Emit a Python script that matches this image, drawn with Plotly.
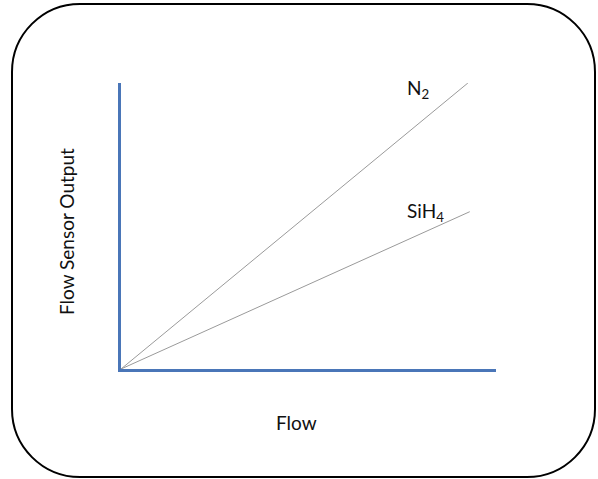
import plotly.graph_objects as go

# Data
gases = ["N<sub>2</sub>", "SiH<sub>4</sub>"]
flow_end = [92.5, 93.0]
output_end = [100.0, 55.0]

W, H = 598, 479
L, R, T, B = 121, 496, 83, 369

def px2paper(px, py):
    return (px - L) / (R - L), (B - py) / (B - T)

fig = go.Figure()
for name, xe, ye in zip(gases, flow_end, output_end):
    fig.add_trace(go.Scatter(x=[0, xe], y=[0, ye], mode="lines",
                             line=dict(color="#9a9a9a", width=1), name=name,
                             showlegend=False, hoverinfo="skip"))

# Rounded border
x0, x1, y0, y1, r = 12, 595, 4, 477, 68
k = 0.5523 * r
def P(x, y):
    a, b = px2paper(x, y)
    return f"{a:.5f},{b:.5f}"
path = (f"M {P(x0 + r, y0)} L {P(x1 - r, y0)} "
        f"C {P(x1 - r + k, y0)} {P(x1, y0 + r - k)} {P(x1, y0 + r)} "
        f"L {P(x1, y1 - r)} "
        f"C {P(x1, y1 - r + k)} {P(x1 - r + k, y1)} {P(x1 - r, y1)} "
        f"L {P(x0 + r, y1)} "
        f"C {P(x0 + r - k, y1)} {P(x0, y1 - r + k)} {P(x0, y1 - r)} "
        f"L {P(x0, y0 + r)} "
        f"C {P(x0, y0 + r - k)} {P(x0 + r - k, y0)} {P(x0 + r, y0)} Z")
fig.add_shape(type="path", path=path, xref="paper", yref="paper",
              line=dict(color="black", width=2), layer="below")

font = dict(family="Lato, 'Open Sans', sans-serif", size=19, color="#111")

label_pos = [(75.7, 97.9), (75.7, 54.9)]
for name, (lx, ly) in zip(gases, label_pos):
    fig.add_annotation(x=lx, y=ly, xref="x", yref="y", text=name, showarrow=False,
                       xanchor="left", yanchor="middle", font=font)

ax, ay = px2paper(296, 422)
fig.add_annotation(x=ax, y=ay, xref="paper", yref="paper", text="Flow",
                   showarrow=False, xanchor="center", yanchor="middle", font=font)
ax, ay = px2paper(66, 232)
fig.add_annotation(x=ax, y=ay, xref="paper", yref="paper", text="Flow Sensor Output",
                   showarrow=False, xanchor="center", yanchor="middle", textangle=-90, font=font)

axis_common = dict(showgrid=False, zeroline=False, showticklabels=False, ticks="",
                   showline=True, linecolor="#4a76b8", linewidth=3, fixedrange=True)
fig.update_xaxes(range=[0, 100], **axis_common)
fig.update_yaxes(range=[0, 100], **axis_common)

fig.update_layout(width=W, height=H, margin=dict(l=L, r=W - R, t=T, b=H - B),
                  paper_bgcolor="white", plot_bgcolor="white", showlegend=False)

fig.write_html("out.html", config={"displayModeBar": False},
               post_script="document.body.style.margin='0';document.body.style.overflow='hidden';")
